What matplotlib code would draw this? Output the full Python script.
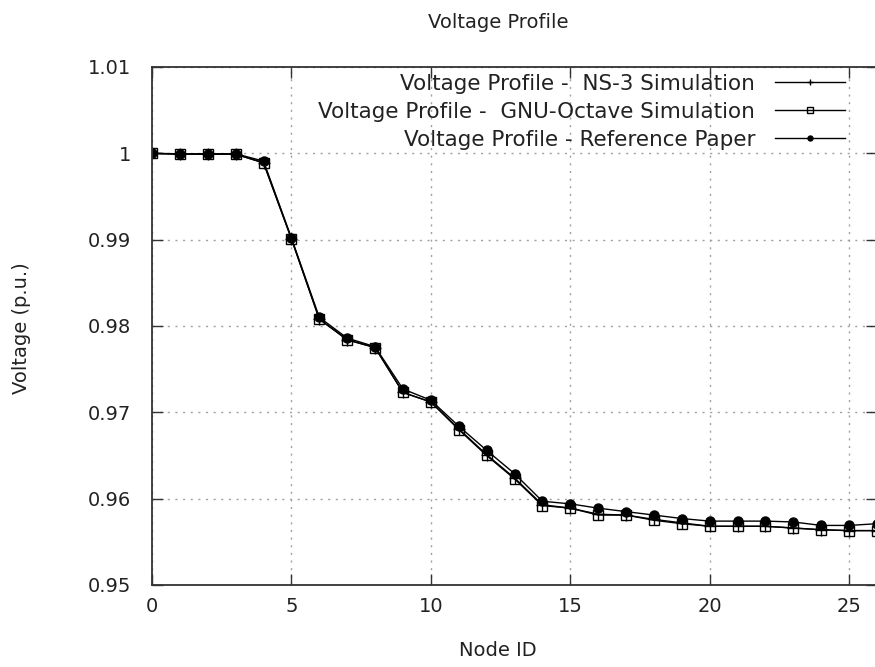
import matplotlib
matplotlib.use("Agg")
import matplotlib.pyplot as plt
import matplotlib.ticker as ticker

# node ids and voltages (p.u.)
nodes = list(range(27))

ref_paper = [1.0000, 0.99995, 0.99995, 0.99995, 0.9991, 0.9902, 0.9810, 0.9786,
             0.9776, 0.9727, 0.9714, 0.9684, 0.9656, 0.9629, 0.9597, 0.9594,
             0.9589, 0.9585, 0.9581, 0.9577, 0.9574, 0.9574, 0.9574, 0.9573,
             0.9569, 0.9569, 0.9571]

octave = [1.0000, 0.9999, 0.9999, 0.9999, 0.9989, 0.9901, 0.9808, 0.9784,
          0.9775, 0.9723, 0.9712, 0.9680, 0.9650, 0.9623, 0.9592, 0.9589,
          0.9581, 0.9581, 0.9575, 0.9571, 0.9568, 0.9568, 0.9568, 0.9566,
          0.9564, 0.9563, 0.9563]

ns3 = [1.0000, 0.9999, 0.9999, 0.9999, 0.9989, 0.9901, 0.9808, 0.9784,
       0.9775, 0.9723, 0.9712, 0.9681, 0.9651, 0.9624, 0.9593, 0.9589,
       0.9582, 0.9581, 0.9576, 0.9572, 0.9568, 0.9568, 0.9568, 0.9566,
       0.9564, 0.9563, 0.9563]

labels = [
    "Voltage Profile -  NS-3 Simulation",
    "Voltage Profile -  GNU-Octave Simulation",
    "Voltage Profile - Reference Paper",
]

plt.rcParams["font.family"] = "DejaVu Sans"
FS = 14
TXT = "#222222"

fig = plt.figure(figsize=(8.75, 6.67), dpi=100)
ax = fig.add_axes([152 / 875, 82 / 667, 725 / 875, 518 / 667])

ax.plot(nodes, ns3, color="black", lw=1.0, marker="+", ms=8, mew=1.0,
        label=labels[0])
ax.plot(nodes, octave, color="black", lw=1.0, marker="s", ms=7, mew=1.0,
        mfc="none", label=labels[1])
ax.plot(nodes, ref_paper, color="black", lw=1.0, marker="o", ms=6.5, mew=1.0,
        label=labels[2])

ax.set_xlim(0, 26)
ax.set_ylim(0.95, 1.01)
ax.xaxis.set_major_locator(ticker.MultipleLocator(5))
ax.yaxis.set_major_locator(ticker.MultipleLocator(0.01))
ax.yaxis.set_major_formatter(ticker.FuncFormatter(lambda v, p: "{:g}".format(round(v, 3))))

ax.tick_params(direction="in", length=8, width=1, top=True, right=True,
               labelsize=FS, colors="#333333", labelcolor=TXT)
ax.tick_params(axis="y", pad=15)
ax.tick_params(axis="x", pad=9)
for s in ax.spines.values():
    s.set_linewidth(1.3)
    s.set_color("#333333")

ax.grid(True, color="#a0a0a0", linestyle=(0, (1.5, 4)), linewidth=1.0)
ax.set_axisbelow(True)

leg = ax.legend(loc="upper right",
                bbox_to_anchor=((845 - 152) / 725, 1.0 - 7 / 518),
                frameon=False, markerfirst=False, fontsize=15.5,
                handlelength=3.25, handletextpad=0.93, labelspacing=0.36,
                borderaxespad=0.0, borderpad=0.0, markerscale=0.55)
for t in leg.get_texts():
    t.set_color(TXT)

fig.text(498 / 875, 1 - 22 / 667, "Voltage Profile", ha="center", va="center",
         fontsize=FS, color=TXT)
fig.text(498 / 875, 1 - 651 / 667, "Node ID", ha="center", va="center",
         fontsize=FS, color=TXT)
fig.text(22 / 875, 1 - 328 / 667, "Voltage (p.u.)", ha="center", va="center",
         rotation=90, fontsize=FS, color=TXT)

fig.savefig("out.png", dpi=100)
